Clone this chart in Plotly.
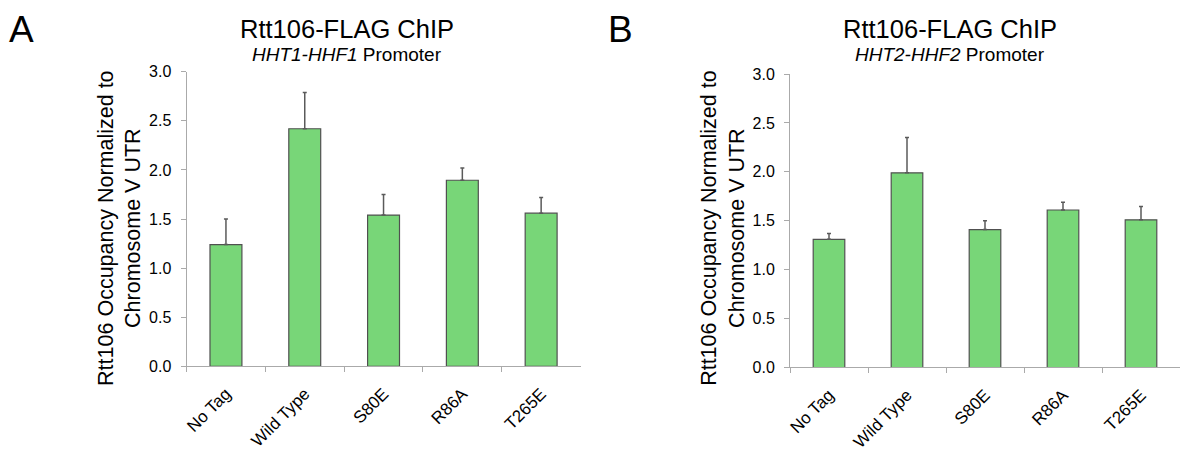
import plotly.graph_objects as go

categories = ["No Tag", "Wild Type", "S80E", "R86A", "T265E"]
values_a = [1.24, 2.42, 1.54, 1.895, 1.56]
errors_a = [0.26, 0.37, 0.21, 0.125, 0.16]
values_b = [1.31, 1.99, 1.41, 1.61, 1.51]
errors_b = [0.06, 0.36, 0.09, 0.08, 0.135]
y_ticks = [0.0, 0.5, 1.0, 1.5, 2.0, 2.5, 3.0]

FONT = "Liberation Sans, Arial, Helvetica, sans-serif"
BAR = "rgb(120,214,120)"
EDGE = "rgb(80,80,80)"
AXIS = "rgb(170,170,170)"

# page body has an 8px margin; figure sized so the page does not overflow the window
OFF = 8
W = 1172.0
H = 450.0

def px(x):
    return (x - OFF) / W

def py(y):
    return 1 - (y - OFF) / H

fig = go.Figure()
for vals, errs, xa, ya in [(values_a, errors_a, "x", "y"), (values_b, errors_b, "x2", "y2")]:
    fig.add_trace(go.Bar(
        x=categories, y=vals, xaxis=xa, yaxis=ya, width=0.405,
        marker=dict(color=BAR, line=dict(color=EDGE, width=1.2)),
        error_y=dict(type="data", array=errs, symmetric=False, arrayminus=[0]*len(errs),
                     color="rgb(90,90,90)", thickness=1.5, width=2),
        showlegend=False,
    ))

def xaxis(domain, anchor):
    return dict(domain=domain, anchor=anchor, type="category", range=[-0.5, 4.5],
                showline=True, linecolor=AXIS, linewidth=1, ticks="outside", tickson="boundaries",
                ticklen=5, tickcolor=AXIS, tickangle=-45, showgrid=False, zeroline=False,
                ticklabelstandoff=10,
                tickfont=dict(family=FONT, size=17, color="black"))

def yaxis(domain, anchor):
    return dict(domain=domain, anchor=anchor, range=[0, 3], tickvals=y_ticks,
                ticktext=[f"{v:.1f}" for v in y_ticks],
                showline=True, linecolor=AXIS, linewidth=1, ticks="outside", ticklen=5,
                tickcolor=AXIS, showgrid=False, zeroline=False, ticklabelstandoff=6,
                tickfont=dict(family=FONT, size=16, color="black"))

fig.update_layout(
    width=W, height=H, margin=dict(l=0, r=0, t=0, b=0),
    plot_bgcolor="white", paper_bgcolor="white", bargap=0.6,
    xaxis=xaxis([px(184), px(579)], "y"),
    yaxis=yaxis([py(372), py(66)], "x"),
    xaxis2=xaxis([px(789), min(1.0, px(1183))], "y2"),
    yaxis2=yaxis([py(373.3), py(68.3)], "x2"),
)

def ann(text, x, y, size, **kw):
    fig.add_annotation(text=text, x=px(x), y=py(y), xref="paper", yref="paper", showarrow=False,
                       xanchor="center", yanchor="middle",
                       font=dict(family=FONT, size=size, color="black"), **kw)

ann("A", 19, 22, 37)
ann("B", 619, 22, 37)
for cx, sub in [(345, "<i>HHT1-HHF1</i> Promoter"), (949, "<i>HHT2-HHF2</i> Promoter")]:
    ann("Rtt106-FLAG ChIP", cx, 21, 25.5)
    ann(sub, cx, 48, 19)
for cx in (116.5, 722.0):
    ann("Rtt106 Occupancy Normalized to<br>Chromosome V UTR", cx, 228, 21.5, textangle=-90)

fig.write_html("out.html")
